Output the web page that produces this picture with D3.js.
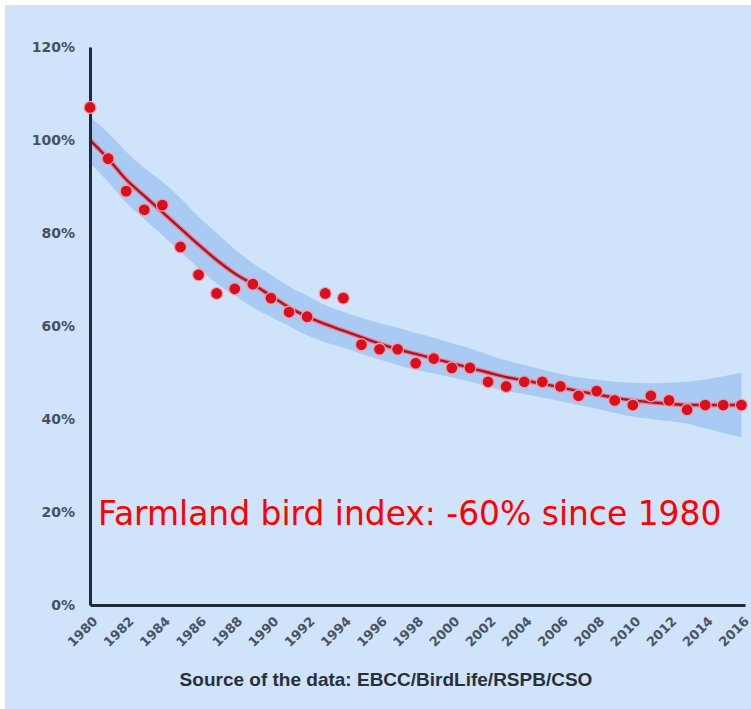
<!DOCTYPE html>
<html>
<head>
<meta charset="utf-8">
<script src="https://cdn.jsdelivr.net/npm/d3@7"></script>
<style>
  html, body { margin: 0; padding: 0; background: #ffffff; }
  svg { display: block; }
</style>
</head>
<body>
<svg id="chart" width="751" height="709"></svg>
<script>
// ---- Data ----
const years = [1980,1981,1982,1983,1984,1985,1986,1987,1988,1989,1990,1991,1992,1993,1994,1995,1996,1997,1998,1999,2000,2001,2002,2003,2004,2005,2006,2007,2008,2009,2010,2011,2012,2013,2014,2015,2016];
const indexValues = [107,96,89,85,86,77,71,67,68,69,66,63,62,67,66,56,55,55,52,53,51,51,48,47,48,48,47,45,46,44,43,45,44,42,43,43,43];
const trendValues = [100,96,91.5,88,84.5,81,77.5,74.2,71.3,69,66.5,64,62,60.4,59,57.6,56.2,55,54,53,52,51,50,49,48.3,47.6,46.8,46,45.3,44.6,44,43.6,43.3,43,43,43,43];
const upperValues = [105,101.5,97.5,94,91,87.5,83.5,80,76.5,73.5,71,68.5,66.5,64.5,63,61.8,60.6,59.6,58.5,57.5,56.3,55.2,53.8,52.6,51.6,50.6,49.7,49,48.5,48,47.8,47.7,47.8,48,48.5,49.2,50];
const lowerValues = [95,91,86.5,83,79.5,76,72.5,69.2,66.5,64,62,60,58,56.5,55.3,54,52.8,51.6,50.6,49.8,48.9,48,47,46,45.4,44.6,43.8,43,42.2,41.3,40.5,40,39.5,39,38,37,36];
const yTicks = [0,20,40,60,80,100,120];
const xTicks = [1980,1982,1984,1986,1988,1990,1992,1994,1996,1998,2000,2002,2004,2006,2008,2010,2012,2014,2016];
const annotation = "Farmland bird index: -60% since 1980";
const sourceText = "Source of the data: EBCC/BirdLife/RSPB/CSO";

// ---- Drawing ----
const svg = d3.select("#chart");

svg.append("rect")
  .attr("x", 5).attr("y", 5)
  .attr("width", 746).attr("height", 704)
  .attr("fill", "#cfe3fa");

const x = d3.scaleLinear().domain([1980, 2016.2]).range([90, 745]);
const y = d3.scaleLinear().domain([0, 120]).range([605, 47]);

const rows = years.map((yr, i) => ({
  year: yr, v: indexValues[i], t: trendValues[i], hi: upperValues[i], lo: lowerValues[i]
}));

// confidence band
const area = d3.area()
  .x(d => x(d.year))
  .y0(d => y(d.lo))
  .y1(d => y(d.hi))
  .curve(d3.curveMonotoneX);
svg.append("path")
  .datum(rows)
  .attr("d", area)
  .attr("fill", "#a8caf3");

// trend line
const line = d3.line()
  .x(d => x(d.year))
  .y(d => y(d.t))
  .curve(d3.curveMonotoneX);
svg.append("path")
  .datum(rows)
  .attr("d", line)
  .attr("fill", "none")
  .attr("stroke", "#f08090")
  .attr("stroke-width", 5)
  .attr("stroke-linejoin", "round");
svg.append("path")
  .datum(rows)
  .attr("d", line)
  .attr("fill", "none")
  .attr("stroke", "#a6162c")
  .attr("stroke-width", 2.4)
  .attr("stroke-linejoin", "round");

// axes
const yAxis = d3.axisLeft(y)
  .tickValues(yTicks)
  .tickSize(0)
  .tickPadding(15)
  .tickFormat(d => d + "%");
const gy = svg.append("g")
  .attr("transform", "translate(90,0)")
  .call(yAxis);
gy.select(".domain").attr("stroke", "#1e2a3a").attr("stroke-width", 3);
gy.selectAll("text")
  .attr("font-family", "DejaVu Sans, sans-serif")
  .attr("font-weight", "bold")
  .attr("font-size", 14)
  .attr("fill", "#46515f");

const xAxis = d3.axisBottom(x)
  .tickValues(xTicks)
  .tickSize(0)
  .tickFormat(d3.format("d"));
const gx = svg.append("g")
  .attr("transform", "translate(0,605)")
  .call(xAxis);
gx.select(".domain").attr("stroke", "#1e2a3a").attr("stroke-width", 3);
gx.selectAll("text")
  .attr("x", null).attr("y", null).attr("dy", null)
  .attr("text-anchor", "end")
  .attr("transform", "translate(8,17) rotate(-45)")
  .attr("font-family", "DejaVu Sans, sans-serif")
  .attr("font-weight", "bold")
  .attr("font-size", 13)
  .attr("fill", "#4a5563");

// data points
svg.append("g")
  .selectAll("circle")
  .data(rows)
  .join("circle")
  .attr("cx", d => x(d.year))
  .attr("cy", d => y(d.v))
  .attr("r", 6)
  .attr("fill", "#d6101f")
  .attr("stroke", "#f4a0aa")
  .attr("stroke-width", 1.3);

// annotation
svg.append("text")
  .attr("x", 98).attr("y", 525)
  .attr("font-family", "DejaVu Sans, Verdana, sans-serif")
  .attr("font-size", 32.9)
  .attr("fill", "#ff0000")
  .text(annotation);

// source
svg.append("text")
  .attr("x", 386).attr("y", 686)
  .attr("text-anchor", "middle")
  .attr("font-family", "Liberation Sans, Arial, sans-serif")
  .attr("font-weight", "bold")
  .attr("font-size", 19)
  .attr("fill", "#2a2f3a")
  .text(sourceText);
</script>
</body>
</html>
